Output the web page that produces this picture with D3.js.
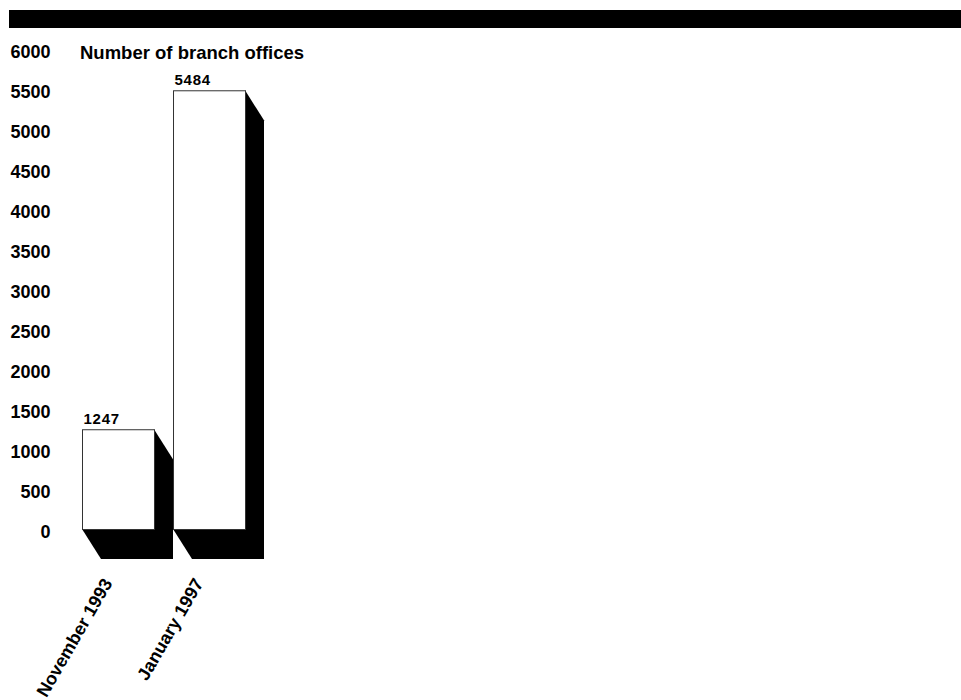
<!DOCTYPE html>
<html>
<head>
<meta charset="utf-8">
<script src="https://cdn.jsdelivr.net/npm/d3@7"></script>
<style>
  body { margin: 0; background: #fff; }
  text { font-family: "Liberation Sans", Arial, sans-serif; font-weight: bold; fill: #000; }
</style>
</head>
<body>
<div id="chart"></div>
<script>

var categories = ["November 1993", "January 1997"];
var offices = [1247, 5484];
var yTicks = [0, 500, 1000, 1500, 2000, 2500, 3000, 3500, 4000, 4500, 5000, 5500, 6000];

var width = 961, height = 700;

// shadow depth of the pseudo 3d bars
var depth = {x: 19, y: 30};

var svg = d3.select("#chart").append("svg")
    .attr("width", width)
    .attr("height", height);

// black band along the top
svg.append("rect")
    .attr("x", 9)
    .attr("y", 10)
    .attr("width", width - 9)
    .attr("height", 18)
    .attr("fill", "#000");

var x = d3.scaleBand()
    .domain(categories)
    .range([82, 245])
    .paddingInner(0.209)
    .paddingOuter(0);

var y = d3.scaleLinear()
    .domain([0, 6000])
    .range([529, 49]);

// y axis, just the labels
svg.append("g")
    .attr("class", "y-axis")
    .attr("transform", "translate(50.5,2.5)")
    .style("font-size", "18px")
    .call(d3.axisLeft(y).tickValues(yTicks).tickFormat(d3.format("d")).tickSize(0).tickPadding(0))
    .call(function(g) { g.select(".domain").remove(); })
    .selectAll("text")
      .attr("font-family", null)
      .attr("font-size", null);

svg.append("text")
    .attr("x", 80)
    .attr("y", 59)
    .style("font-size", "18.5px")
    .text("Number of branch offices");

var data = categories.map(function(c, i) { return {cat: c, value: offices[i]}; });

var bars = svg.selectAll(".bar")
    .data(data)
  .enter().append("g")
    .attr("class", "bar");

bars.append("polygon")
    .attr("fill", "#000")
    .attr("points", function(d) {
      var x0 = x(d.cat), x1 = x0 + x.bandwidth(), top = y(d.value), base = y(0);
      return [[x0, base], [x0 + depth.x, base + depth.y], [x1 + depth.x, base + depth.y],
              [x1 + depth.x, top + depth.y], [x1, top]].join(" ");
    });

bars.append("rect")
    .attr("x", function(d) { return x(d.cat) + 0.5; })
    .attr("y", function(d) { return y(d.value) + 0.5; })
    .attr("width", x.bandwidth())
    .attr("height", function(d) { return y(0) - y(d.value); })
    .attr("fill", "#fff")
    .attr("stroke", "#333")
    .attr("stroke-width", 1);

bars.append("text")
    .attr("x", function(d) { return x(d.cat) + 38; })
    .attr("y", function(d) { return y(d.value) - 5; })
    .attr("text-anchor", "end")
    .style("font-size", "15px")
    .style("letter-spacing", "0.8px")
    .text(function(d) { return d.value; });

// rotated category labels
svg.append("g")
    .attr("class", "x-axis")
    .attr("transform", "translate(0," + (y(0) + depth.y) + ")")
    .call(d3.axisBottom(x).tickSize(0))
    .call(function(g) { g.select(".domain").remove(); })
    .selectAll("text")
      .attr("font-family", null)
      .attr("font-size", null)
      .style("font-size", "18px")
      .attr("x", 0)
      .attr("y", 0)
      .attr("dy", null)
      .attr("text-anchor", "end")
      .attr("transform", "translate(-5,24) rotate(-60)");

</script>
</body>
</html>
